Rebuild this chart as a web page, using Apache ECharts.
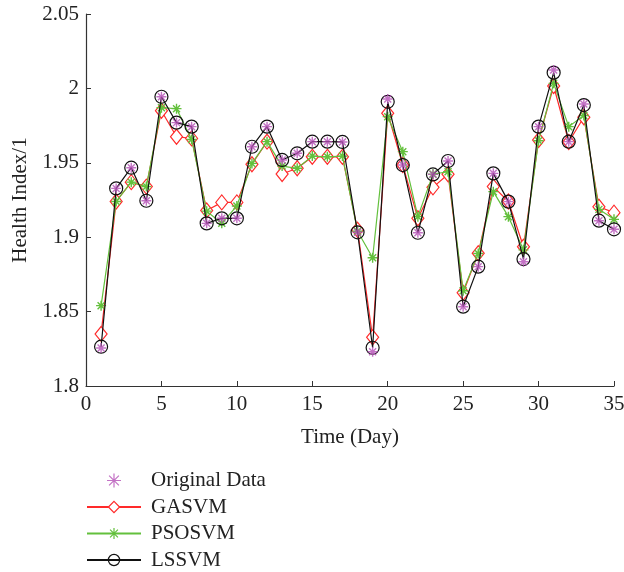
<!DOCTYPE html>
<html>
<head>
<meta charset="utf-8">
<script src="https://cdn.jsdelivr.net/npm/echarts@6/dist/echarts.min.js"></script>
<style>
  html, body { margin: 0; padding: 0; background: #fff; }
  #main { width: 624px; height: 572px; }
</style>
</head>
<body>
<div id="main"></div>
<script>
// days 1..35
const days = Array.from({ length: 35 }, (_, i) => i + 1)

const original = [1.8255, 1.9328, 1.9467, 1.9245, 1.9944, 1.977, 1.9743, 1.9093, 1.9127, 1.9127,
  1.9608, 1.9743, 1.9519, 1.9564, 1.9642, 1.9642, 1.964, 1.9033, 1.823, 1.9929,
  1.9485, 1.903, 1.9422, 1.9512, 1.8533, 1.8802, 1.9429, 1.9239, 1.8835, 1.9743,
  2.0124, 1.9642, 1.9895, 1.9111, 1.9053]
const gasvm = [1.835, 1.924, 1.937, 1.934, 1.985, 1.9675, 1.9664, 1.918, 1.9234, 1.9234,
  1.949, 1.9642, 1.9425, 1.9463, 1.954, 1.954, 1.954, 1.905, 1.8327, 1.9833,
  1.9485, 1.9127, 1.9335, 1.9423, 1.8627, 1.8892, 1.934, 1.924, 1.8936, 1.9653,
  2.0016, 1.964, 1.9806, 1.9205, 1.9165]
const psosvm = [1.854, 1.924, 1.937, 1.934, 1.987, 1.9864, 1.9657, 1.9175, 1.9093, 1.921,
  1.9496, 1.9642, 1.9478, 1.9463, 1.9545, 1.954, 1.9545, 1.904, 1.8862, 1.981,
  1.9575, 1.9138, 1.9424, 1.944, 1.864, 1.889, 1.9306, 1.9138, 1.8915, 1.9648,
  2.0034, 1.9743, 1.9818, 1.9187, 1.912]
const lssvm = [1.8264, 1.9328, 1.9467, 1.9245, 1.9944, 1.977, 1.9743, 1.9093, 1.9127, 1.9127,
  1.9608, 1.9743, 1.9519, 1.9564, 1.9642, 1.9642, 1.964, 1.9033, 1.8257, 1.991,
  1.9485, 1.903, 1.9422, 1.9512, 1.8533, 1.8802, 1.9429, 1.9239, 1.8853, 1.9743,
  2.0106, 1.9642, 1.9888, 1.9111, 1.9053]

const pair = arr => arr.map((v, i) => [days[i], v])

// asterisk marker
const star = 'path://M0,-5L0,5M-5,0L5,0M-3.5,-3.5L3.5,3.5M-3.5,3.5L3.5,-3.5'
const font = 'Liberation Serif'

let myChart = echarts.init(document.getElementById('main'))
let options = {
  animation: false,
  textStyle: { fontFamily: font },
  grid: { left: 86, right: 10, top: 14, bottom: 186, outerBoundsMode: 'none' },
  legend: {
    orient: 'vertical',
    left: 86,
    top: 470,
    height: 140,
    padding: 0,
    itemWidth: 54,
    itemHeight: 14,
    itemGap: 5.5,
    itemStyle: { borderWidth: 1.2 },
    textStyle: { fontFamily: font, fontSize: 21, lineHeight: 20, color: '#222', padding: [0, 0, 0, 5] },
    data: ['Original Data', 'GASVM', 'PSOSVM', 'LSSVM']
  },
  xAxis: {
    type: 'value',
    min: 0,
    max: 35,
    interval: 5,
    name: 'Time (Day)',
    nameLocation: 'middle',
    nameGap: 41,
    nameTextStyle: { fontFamily: font, fontSize: 21, color: '#222' },
    axisLine: { lineStyle: { color: '#333', width: 1.2 } },
    axisTick: { inside: true, length: 5, lineStyle: { color: '#333' } },
    axisLabel: { fontFamily: font, fontSize: 21, color: '#222', margin: 8 },
    splitLine: { show: false }
  },
  yAxis: {
    type: 'value',
    min: 1.8,
    max: 2.05,
    interval: 0.05,
    name: 'Health Index/1',
    nameLocation: 'middle',
    nameGap: 54,
    nameTextStyle: { fontFamily: font, fontSize: 21, color: '#222' },
    axisLine: { show: true, lineStyle: { color: '#333', width: 1.2 } },
    axisTick: { show: true, inside: true, length: 5, lineStyle: { color: '#333' } },
    axisLabel: {
      fontFamily: font, fontSize: 21, color: '#222', margin: 7,
      formatter: v => String(+v.toFixed(2))
    },
    splitLine: { show: false }
  },
  series: [
    {
      name: 'GASVM',
      type: 'line',
      data: pair(gasvm),
      symbol: 'diamond',
      symbolSize: [12, 15],
      lineStyle: { color: '#ff2a2a', width: 1.2 },
      itemStyle: { color: '#fff', borderColor: '#ff2a2a', borderWidth: 1.2 },
      z: 2
    },
    {
      name: 'PSOSVM',
      type: 'line',
      data: pair(psosvm),
      symbol: star,
      symbolSize: 10,
      lineStyle: { color: '#63c03c', width: 1.2 },
      itemStyle: { color: 'none', borderColor: '#63c03c', borderWidth: 1.4 },
      z: 3
    },
    {
      name: 'LSSVM',
      type: 'line',
      data: pair(lssvm),
      symbol: 'circle',
      symbolSize: 13,
      lineStyle: { color: '#111', width: 1.2 },
      itemStyle: { color: 'none', borderColor: '#111', borderWidth: 1.2 },
      z: 4
    },
    {
      name: 'Original Data',
      type: 'scatter',
      data: pair(original),
      symbol: star,
      symbolSize: 10,
      itemStyle: { color: 'none', borderColor: '#b44fb6', borderWidth: 1.4 },
      z: 5
    }
  ]
}
myChart.setOption(options)
</script>
</body>
</html>
